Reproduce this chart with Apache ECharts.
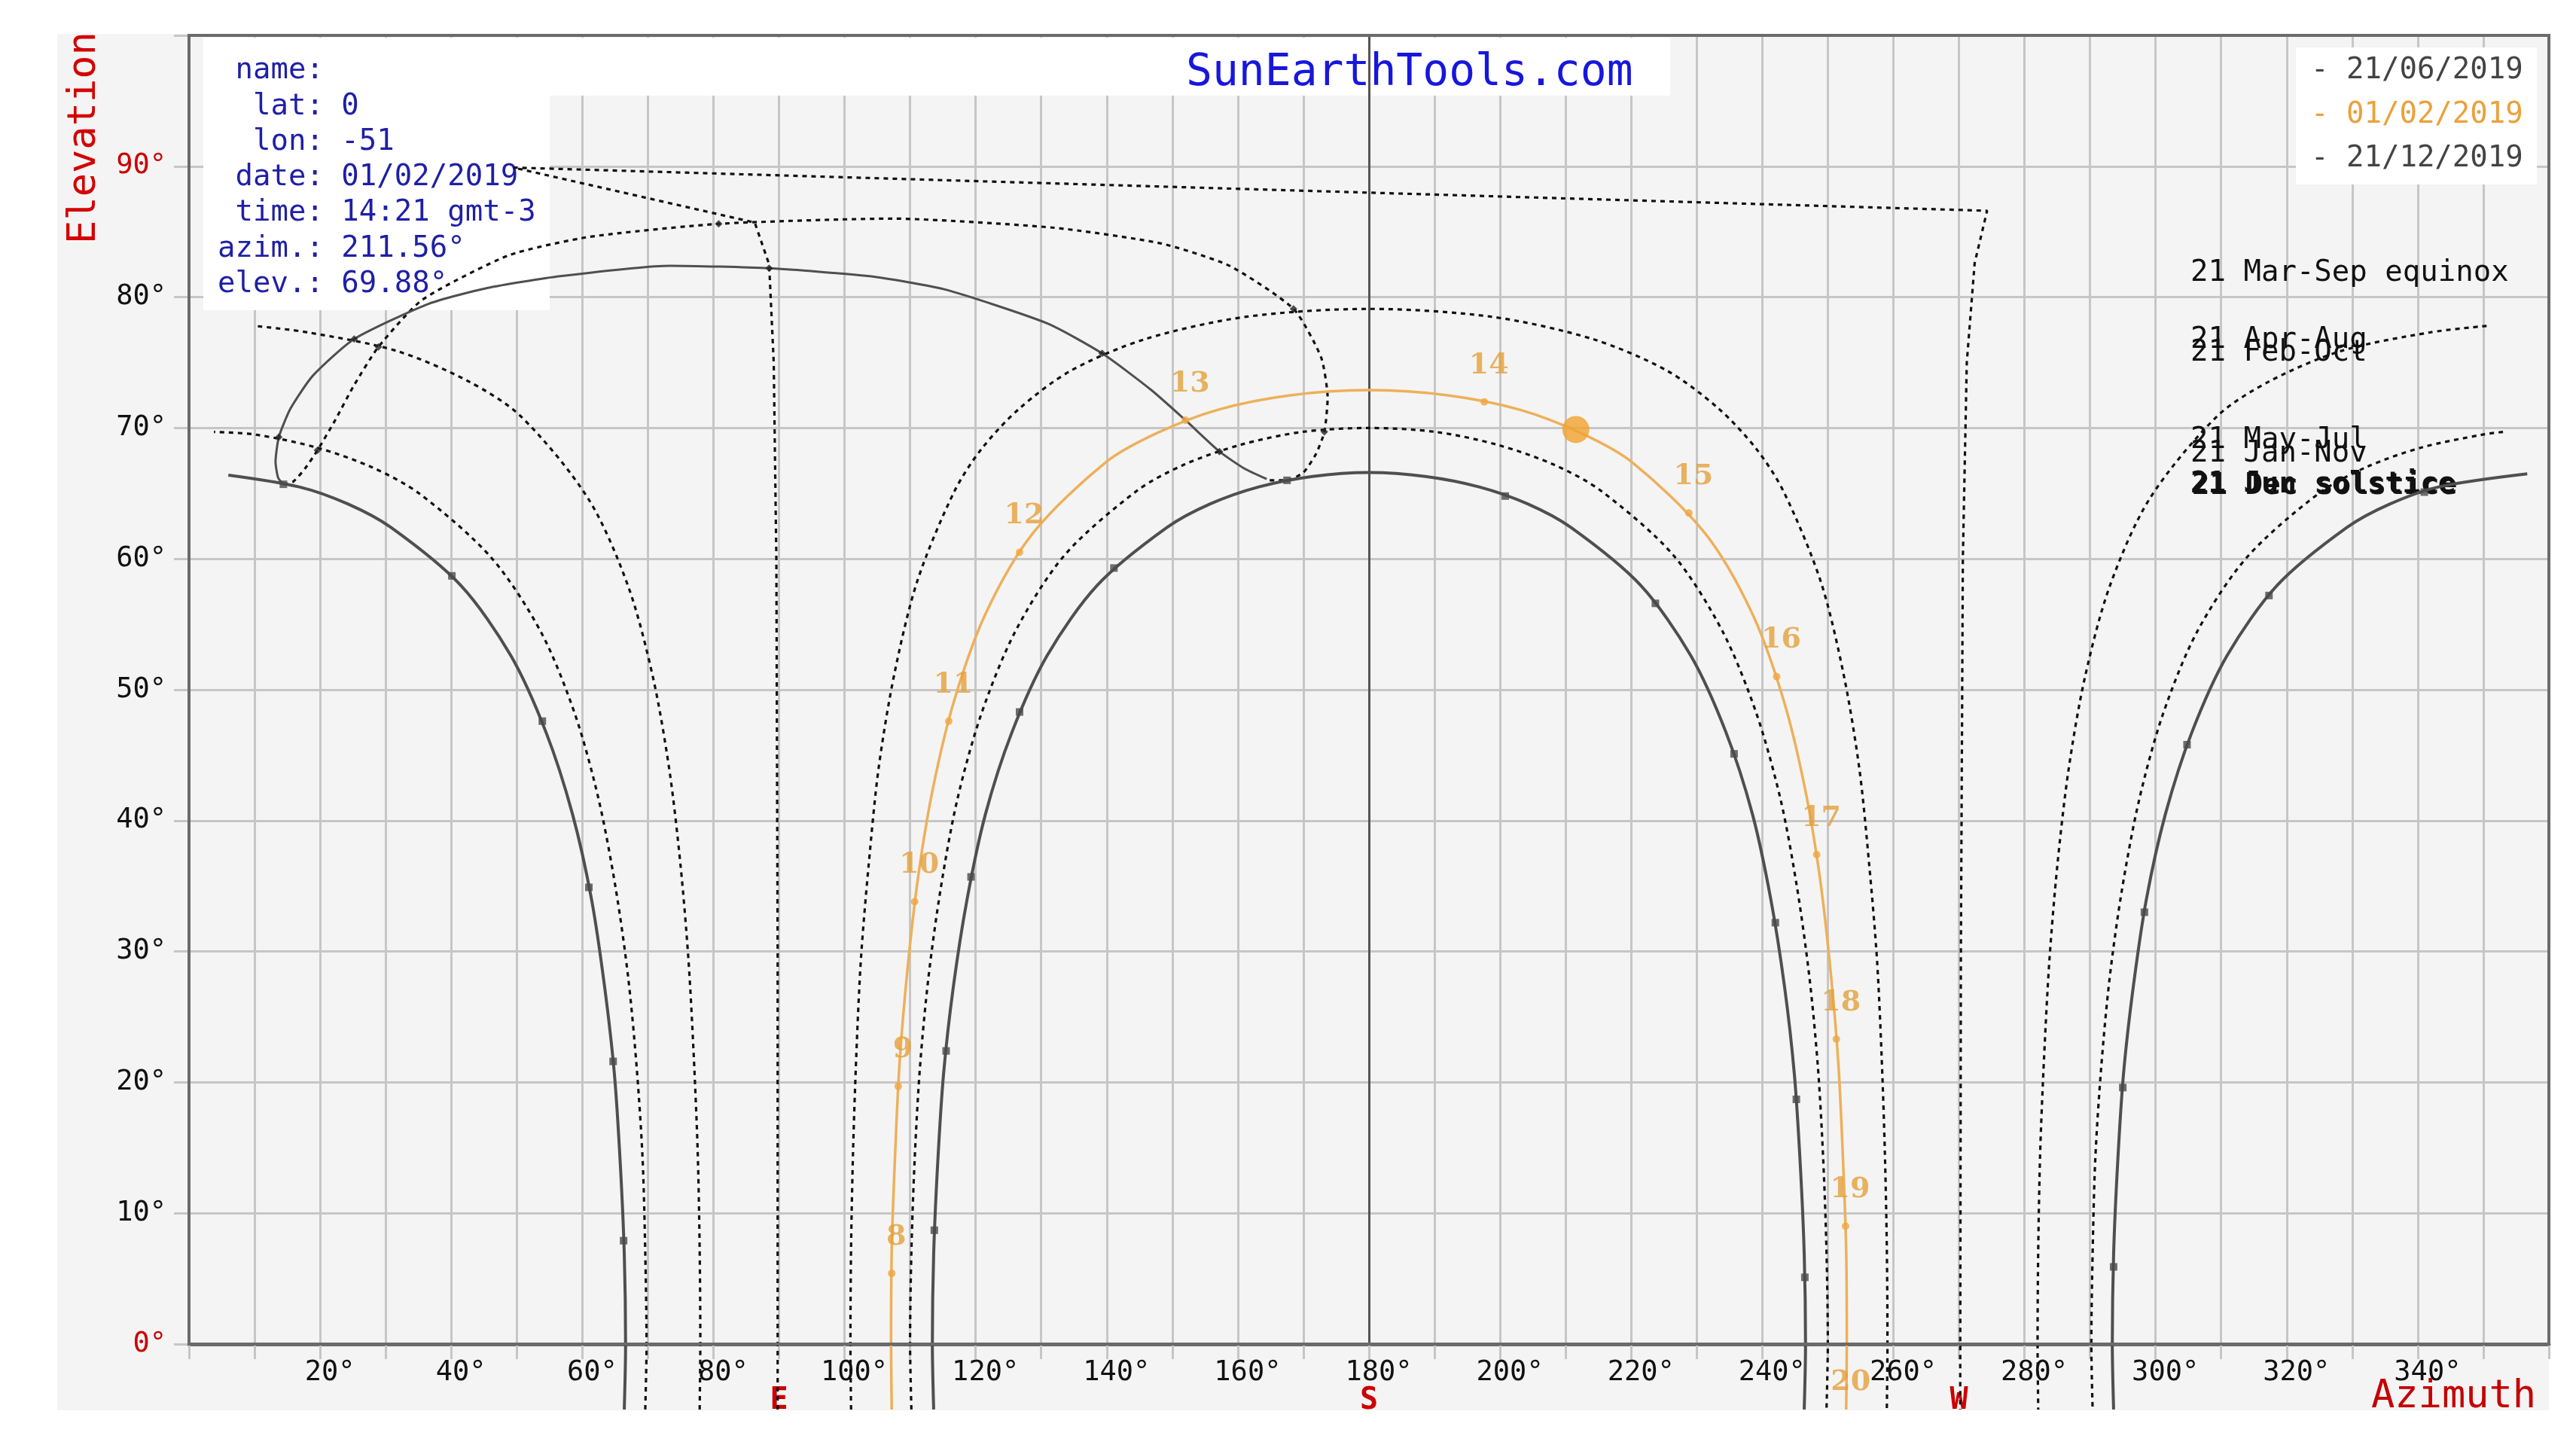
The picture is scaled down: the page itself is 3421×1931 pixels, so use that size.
<!DOCTYPE html>
<html><head><meta charset="utf-8">
<script src="https://cdn.jsdelivr.net/npm/echarts@6/dist/echarts.min.js"></script>
<style>html,body{margin:0;padding:0;background:#fff}#c{width:3421px;height:1931px}</style>
</head><body><div id="c"></div>
<script>
// ---- Data: sun positions [azimuth°, elevation°]; null = break of the line at north (0°/360°)
const jun21 = [[66.4,-5],[66.6,0],[66.4,6.9],[65.8,13.7],[64.9,20.6],[63.4,27.3],[61.4,34.0],[58.5,40.5],[54.5,46.7],[49.1,52.6],[41.4,58.0],[30.8,62.4],[24.2,64.2],[16.8,65.5],[6.0,66.4],
  null,
  [356.7,66.5],[343.2,65.5],[335.8,64.2],[329.2,62.4],[318.6,58.0],[310.9,52.6],[305.5,46.7],[301.5,40.5],[298.6,34.0],[296.6,27.3],[295.1,20.6],[294.2,13.7],[293.6,6.9],[293.4,0],[293.6,-5]];
const mayJul21 = [[69.6,-5],[69.8,0],[69.6,7.0],[69.2,14.1],[68.3,21.1],[67.0,28.0],[65.1,34.8],[62.5,41.6],[58.9,48.1],[53.7,54.4],[46.1,60.1],[35.1,65.0],[27.9,67.0],[19.5,68.5],[10.1,69.5],[3.8,69.7],
  null,
  [353.0,69.7],[349.9,69.5],[340.5,68.5],[332.1,67.0],[324.9,65.0],[313.9,60.1],[306.3,54.4],[301.1,48.1],[297.5,41.6],[294.9,34.8],[293.0,28.0],[291.7,21.1],[290.8,14.1],[290.4,7.0],[290.2,0],[290.4,-5]];
const aprAug21 = [[77.9,-5],[78.0,0],[77.9,7.3],[77.6,14.7],[77.0,22.0],[76.2,29.3],[75.0,36.5],[73.3,43.8],[70.8,50.9],[67.0,57.9],[60.9,64.6],[50.6,70.9],[42.5,73.6],[31.6,75.9],[18.2,77.3],[10.0,77.8],
  null,
  [350.5,77.8],[341.8,77.3],[328.4,75.9],[317.5,73.6],[309.4,70.9],[299.1,64.6],[293.0,57.9],[289.2,50.9],[286.7,43.8],[285.0,36.5],[283.8,29.3],[283.0,22.0],[282.4,14.7],[282.1,7.3],[282.0,0],[282.1,-5]];
const marSep21 = [[89.8,-5],[89.8,0],[89.8,30],[89.6,60],[89.2,75],[88.5,82.5],[86.3,85.7],[49.5,89.9],[274.3,86.6],[272.4,82.6],[271.2,75],[270.6,60],[270.3,30],[270.2,0],[270.2,-5]];
const febOct21 = [[101.0,-5],[100.9,0],[101.0,7.4],[101.3,14.7],[101.8,22.1],[102.5,29.4],[103.7,36.7],[105.2,44.0],[107.6,51.2],[111.1,58.3],[116.7,65.1],[120.9,68.4],[126.7,71.5],[134.6,74.4],[145.9,76.8],[161.3,78.5],[180,79.1],[198.7,78.5],[214.1,76.8],[225.4,74.4],[233.3,71.5],[239.1,68.4],[243.3,65.1],[248.9,58.3],[252.4,51.2],[254.8,44.0],[256.3,36.7],[257.5,29.4],[258.2,22.1],[258.7,14.7],[259.0,7.4],[259.1,0],[259.0,-5]];
const janNov21 = [[110.2,-5],[110.0,0],[110.2,7.1],[110.7,14.1],[111.5,21.1],[112.8,28.0],[114.7,34.9],[117.2,41.6],[120.9,48.2],[126.1,54.5],[133.6,60.3],[144.6,65.2],[151.8,67.2],[160.3,68.7],[169.8,69.7],[180,70.0],[190.2,69.7],[199.7,68.7],[208.2,67.2],[215.4,65.2],[226.4,60.3],[233.9,54.5],[239.1,48.2],[242.8,41.6],[245.3,34.9],[247.2,28.0],[248.5,21.1],[249.3,14.1],[249.8,7.1],[250.0,0],[249.8,-5]];
const dec21 = [[113.6,-5],[113.4,0],[113.6,6.9],[114.2,13.7],[115.1,20.6],[116.6,27.3],[118.7,34.0],[121.5,40.5],[125.5,46.7],[130.9,52.6],[138.6,58.0],[149.2,62.4],[155.8,64.2],[163.2,65.5],[171.4,66.3],[180,66.6],[188.6,66.3],[196.8,65.5],[204.2,64.2],[210.8,62.4],[221.4,58.0],[229.1,52.6],[234.5,46.7],[238.5,40.5],[241.3,34.0],[243.4,27.3],[244.9,20.6],[245.8,13.7],[246.4,6.9],[246.6,0],[246.4,-5]];
const feb01 = [[107.2,-5],[107.1,0],[107.2,7.2],[107.7,14.3],[108.4,21.5],[109.6,28.6],[111.2,35.6],[113.5,42.5],[116.8,49.3],[121.6,55.9],[128.8,62.0],[139.9,67.4],[147.6,69.6],[157.0,71.4],[168.0,72.5],[180,72.9],[192.0,72.5],[203.0,71.4],[212.4,69.6],[220.1,67.4],[231.2,62.0],[238.4,55.9],[243.2,49.3],[246.5,42.5],[248.8,35.6],[250.4,28.6],[251.6,21.5],[252.3,14.3],[252.8,7.2],[252.9,0],[252.8,-5]];
// hour markers
const feb01Hours = ['8','9','10','11','12','13','14','15','16','17','18','19','20'];
const feb01HourPts = [[107.2,5.4],[108.2,19.7],[110.7,33.8],[115.9,47.6],[126.7,60.5],[152.0,70.6],[197.6,72.0],[228.8,63.5],[242.2,51.0],[248.3,37.4],[251.3,23.3],[252.7,9.0],[252.8,-5.4]];
const jun21HourPts = [[66.3,7.9],[64.7,21.6],[61.0,34.9],[53.9,47.6],[40.1,58.7],[14.4,65.7],[341.0,65.1],[317.3,57.2],[304.8,45.8],[298.3,33.0],[295.0,19.6],[293.6,5.9]];
const dec21HourPts = [[113.7,8.7],[115.5,22.4],[119.3,35.7],[126.7,48.3],[141.1,59.3],[167.5,66.0],[200.8,64.8],[223.7,56.6],[235.7,45.1],[242.0,32.2],[245.2,18.7],[246.5,5.1]];
// 12:00 analemma: first half of the year (solid), second half (dotted)
const noonJanJun = [[164.4,66.1],[161.0,66.9],[157.2,68.2],[152.0,70.6],[146.8,72.9],[139.3,75.7],[130.9,78.0],[115.2,80.6],[103.8,81.6],[88.5,82.2],[73.4,82.4],[56.6,81.6],[45.5,80.7],[36.6,79.5],[25.2,76.8],[18.9,74.0],[15.5,71.5],[13.7,69.3],[13.2,67.4],[13.6,66.2],[14.4,65.7]];
const noonJunDec = [[14.4,65.7],[15.9,65.9],[17.7,66.9],[19.6,68.3],[22.3,70.6],[25.1,73.2],[28.9,76.2],[35.6,79.8],[48.8,83.2],[61.0,84.6],[80.8,85.6],[107.3,86.0],[132.0,85.3],[148.3,84.1],[158.7,82.4],[168.5,79.1],[172.7,75.4],[173.7,72.3],[173.2,69.7],[171.9,68.0],[170.0,66.6],[167.5,66.0],[164.7,66.0]];
const noonMarks21 = [[157.2,68.2],[139.3,75.7],[88.5,82.2],[25.2,76.8],[13.7,69.3],[19.6,68.3],[28.9,76.2],[80.8,85.6],[168.5,79.1],[173.2,69.7]];
const sunNow = [211.56, 69.88];
// texts
const infoLines = [' name:', '  lat: 0', '  lon: -51', ' date: 01/02/2019', ' time: 14:21 gmt-3', 'azim.: 211.56°', 'elev.: 69.88°'];
const legendDates = ['21/06/2019', '01/02/2019', '21/12/2019'];
const curveNames = ['21 Mar-Sep equinox', '21 Apr-Aug', '21 Feb-Oct', '21 May-Jul', '21 Jan-Nov', '21 Jun solstice', '21 Dec solstice'];
const compass = {90: 'E', 180: 'S', 270: 'W'};

// ---- Chart
const MONO = '"DejaVu Sans Mono", "Liberation Mono", monospace';
const chart = echarts.init(document.getElementById('c'), null, {renderer: 'canvas', width: 3421, height: 1931});
const DOTTED = {color: '#111', width: 3.2, type: [6, 6]};
const SOLID = {color: '#4f4f4f', width: 4, type: 'solid'};
const ORANGE = '#EDB05A';
const series = [];
function segs(arr) {
  const out = [[]];
  arr.forEach(p => { if (p === null) out.push([]); else out[out.length - 1].push(p); });
  return out.filter(s => s.length);
}
function addCurve(name, arr, style, smooth, z) {
  segs(arr).forEach(s => series.push({
    type: 'line', name, data: s, showSymbol: false, symbol: 'none', clip: false,
    smooth, lineStyle: style, z: z || 5, silent: true, animation: false
  }));
}
addCurve('equinox', marSep21, DOTTED, false);
addCurve('aprAug', aprAug21, DOTTED, 0.3);
addCurve('mayJul', mayJul21, DOTTED, 0.3);
addCurve('febOct', febOct21, DOTTED, 0.3);
addCurve('janNov', janNov21, DOTTED, 0.3);
addCurve('noon2', noonJunDec, DOTTED, 0.2);
addCurve('noon1', noonJanJun, {color: '#4f4f4f', width: 3, type: 'solid'}, 0.2);
addCurve('jun21', jun21, SOLID, 0.3);
addCurve('dec21', dec21, SOLID, 0.3);
series.push({type: 'line', name: 'S', data: [], z: 5, silent: true,
  markLine: {silent: true, symbol: 'none', label: {show: false}, animation: false,
    lineStyle: {color: '#555', width: 3, type: 'solid'}, data: [{xAxis: 180}]}});
addCurve('feb01', feb01, {color: ORANGE, width: 3.5, type: 'solid'}, 0.3, 6);
series.push({type: 'scatter', data: jun21HourPts.concat(dec21HourPts), symbol: 'rect', symbolSize: 10,
  itemStyle: {color: '#4a4a4a'}, clip: false, z: 6, silent: true, animation: false});
series.push({type: 'scatter', data: noonMarks21, symbol: 'diamond', symbolSize: 10,
  itemStyle: {color: '#222'}, clip: false, z: 6, silent: true, animation: false});
series.push({type: 'scatter', clip: false, z: 7, silent: true, animation: false,
  data: feb01HourPts.map((p, i) => ({value: p, symbolSize: p[1] < 0 ? 0 : 10, label: {formatter: feb01Hours[i]}})),
  itemStyle: {color: '#EFA640'},
  label: {show: true, position: 'top', distance: 24, offset: [6, 0], color: '#E3A03A',
    fontFamily: '"DejaVu Serif"', fontWeight: 'bold', fontSize: 38}});
series.push({type: 'scatter', data: [sunNow], symbolSize: 36, itemStyle: {color: '#F0A22E'},
  clip: false, z: 8, silent: true, animation: false});

const elements = [
  {type: 'rect', shape: {x: 76, y: 45, width: 3309, height: 1828}, style: {fill: '#f4f4f4'}, z: -5, silent: true},
  {type: 'rect', shape: {x: 270, y: 50, width: 460, height: 362}, style: {fill: '#ffffff'}, z: 2, silent: true},
  {type: 'rect', shape: {x: 270, y: 50, width: 1948, height: 77}, style: {fill: '#ffffff'}, z: 2, silent: true},
  {type: 'rect', shape: {x: 3049, y: 63, width: 320, height: 182}, style: {fill: '#ffffff'}, z: 2, silent: true},
  {type: 'text', x: 289, y: 70.5, z: 3, silent: true,
    style: {text: infoLines.join('\n'), font: '39px ' + MONO, fill: '#1f1fa6', lineHeight: 47.3, verticalAlign: 'top'}},
  {type: 'text', x: 1575, y: 98, z: 3, silent: true,
    style: {text: 'SunEarthTools.com', font: '58px ' + MONO, fill: '#1717dc', verticalAlign: 'middle'}},
  {type: 'text', x: 112, y: 183, rotation: Math.PI / 2, z: 3, silent: true,
    style: {text: 'Elevation', font: '52px ' + MONO, fill: '#d40000', align: 'center', verticalAlign: 'middle'}},
  {type: 'text', x: 3149, y: 1855, z: 3, silent: true,
    style: {text: 'Azimuth', font: '52px ' + MONO, fill: '#c40000', verticalAlign: 'middle'}}
];
const legendColors = ['#444', '#E9A23C', '#444'];
legendDates.forEach((d, i) => elements.push({type: 'text', x: 3069, y: 94 + i * 58.5, z: 3, silent: true,
  style: {text: '- ' + d, font: '39px ' + MONO, fill: legendColors[i], verticalAlign: 'middle'}}));
const nameY = [363, 452, 469, 585, 603, 644, 646];
const nameX = [2909, 2909, 2909, 2909, 2909, 2909, 2911];
curveNames.forEach((t, i) => elements.push({type: 'text', x: nameX[i], y: nameY[i], z: 3, silent: true,
  style: {text: t, font: (i >= 5 ? 'bold ' : '') + '39px ' + MONO, fill: '#111', verticalAlign: 'middle'}}));

chart.setOption({
  animation: false,
  backgroundColor: '#ffffff',
  grid: {left: 251, right: 36, top: 47, bottom: 146, show: true, borderColor: '#6b6b6b', borderWidth: 4,
    backgroundColor: 'transparent', z: 9, outerBoundsMode: 'none', containLabel: false},
  xAxis: [{
    type: 'value', min: 0, max: 360, interval: 10, z: 1,
    axisLine: {show: true, lineStyle: {color: '#6b6b6b', width: 5}},
    axisTick: {show: true, length: 20, lineStyle: {color: '#c6c6c6', width: 3}},
    splitLine: {show: true, lineStyle: {color: '#c6c6c6', width: 3}},
    axisLabel: {margin: 20, fontFamily: MONO, fontSize: 37, color: '#111', padding: [0, 0, 0, 26],
      formatter: v => (v % 20 === 0 && v > 0 && v < 360) ? v + '°' : ''}
  }, {
    type: 'value', min: 0, max: 360, interval: 90, position: 'bottom', z: 1,
    axisLine: {show: false}, axisTick: {show: false}, splitLine: {show: false},
    axisLabel: {margin: 56, fontFamily: MONO, fontSize: 40, fontWeight: 'bold', color: '#cc0000',
      formatter: v => compass[v] || ''}
  }],
  yAxis: {
    type: 'value', min: 0, max: 100, interval: 10, z: 1,
    axisLine: {show: false},
    axisTick: {show: true, length: 20, lineStyle: {color: '#c6c6c6', width: 3}},
    splitLine: {show: true, lineStyle: {color: '#c6c6c6', width: 3}},
    axisLabel: {margin: 30, fontFamily: MONO, fontSize: 37, padding: [14, 0, 0, 0],
      color: v => (Number(v) === 0 || Number(v) === 90) ? '#cc0000' : '#111',
      formatter: v => v === 100 ? '' : v + '°'}
  },
  graphic: {elements},
  series
});
</script>
</body></html>
